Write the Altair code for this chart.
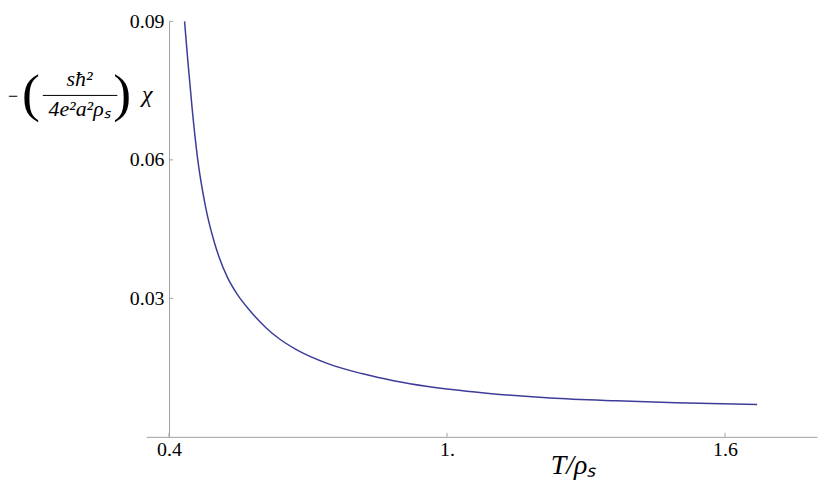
import altair as alt
import pandas as pd

# ---- data ----
T_vals = [0.4336, 0.4407, 0.4501, 0.4621, 0.4786, 0.4983, 0.5086, 0.5264, 0.5478,
          0.5766, 0.6087, 0.6372, 0.6730, 0.7443, 0.8157, 0.8873, 0.9586, 1.0801,
          1.2228, 1.3657, 1.4943, 1.6693]
chi_vals = [0.0900, 0.0814, 0.0710, 0.0600, 0.0500, 0.0420, 0.0388, 0.0345, 0.0308,
            0.0271, 0.0237, 0.0213, 0.0190, 0.0158, 0.0137, 0.0121, 0.0109, 0.0095,
            0.0084, 0.0078, 0.0074, 0.0070]
x_ticks = [0.4, 1.0, 1.6]
x_tick_labels = ["0.4", "1.", "1.6"]
y_ticks = [0.03, 0.06, 0.09]
y_tick_labels = ["0.03", "0.06", "0.09"]

SERIF = "Liberation Serif"
AXIS_GRAY = "#a0a0a0"
LINE_COLOR = "#3d3d99"

W, H = 675, 418

df = pd.DataFrame({"T": T_vals, "chi": chi_vals})

x_scale = alt.Scale(domain=[0.3507, 1.7986], nice=False, zero=False)
y_scale = alt.Scale(domain=[0, 0.09], nice=False, zero=False)

def label_expr(vals, labels):
    parts = " : ".join(
        f"datum.value == {v} ? '{l}'" for v, l in zip(vals, labels)
    )
    return parts + " : ''"

x_axis = alt.Axis(
    values=x_ticks, labelExpr=label_expr(x_ticks, x_tick_labels),
    ticks=False, grid=False, title=None,
    domainColor=AXIS_GRAY, domainWidth=1,
    labelFont=SERIF, labelFontSize=20, labelColor="black",
    labelPadding=3, labelBaseline="top", labelFlush=False,
)
y_axis = alt.Axis(
    values=y_ticks, labelExpr=label_expr(y_ticks, y_tick_labels),
    ticks=False, grid=False, title=None, offset=-23,
    domainColor=AXIS_GRAY, domainWidth=1,
    labelFont=SERIF, labelFontSize=20, labelColor="black",
    labelPadding=5, labelBaseline="middle", labelFlush=False,
)

curve = alt.Chart(df).mark_line(color=LINE_COLOR, strokeWidth=1.5, interpolate="monotone").encode(
    x=alt.X("T:Q", scale=x_scale, axis=x_axis),
    y=alt.Y("chi:Q", scale=y_scale, axis=y_axis),
)

xt = alt.Chart(pd.DataFrame({"T": x_ticks})).mark_rule(color=AXIS_GRAY, strokeWidth=1).encode(
    x=alt.X("T:Q", scale=x_scale), y=alt.value(H), y2=alt.value(H - 4)
)
yt = alt.Chart(pd.DataFrame({"chi": y_ticks})).mark_rule(color=AXIS_GRAY, strokeWidth=1).encode(
    y=alt.Y("chi:Q", scale=y_scale), x=alt.value(23), x2=alt.value(27)
)

def txt(s, x, y, size, style="normal", align="center", baseline="alphabetic"):
    return alt.Chart(pd.DataFrame({"label": [s]})).mark_text(
        font=SERIF, fontSize=size, fontStyle=style, align=align,
        baseline=baseline
    ).encode(text="label:N", x=alt.value(x), y=alt.value(y))

frac_rule = alt.Chart(pd.DataFrame({"k": [0]})).mark_rule(color="black", strokeWidth=1).encode(
    x=alt.value(-104), x2=alt.value(-29), y=alt.value(74.5)
)

annotations = [
    txt("\u2212", -139, 81, 18, align="left"),
    txt("(", -116, 90, 54),
    txt("s\u0127\u00b2", -67, 65, 22, style="italic"),
    txt("4e\u00b2a\u00b2\u03c1\u209b", -67, 95, 22, style="italic"),
    txt(")", -24, 90, 54),
    txt("\u03c7", 1, 81, 24, style="italic"),
    txt("T/\u03c1\u209b", 430, 455, 28, style="italic"),
]

chart = alt.layer(curve, xt, yt, frac_rule, *annotations).properties(
    width=W, height=H,
    padding={"left": 0, "top": 2, "right": 5, "bottom": 5},
).configure_view(stroke=None)

chart.save("out.html", embed_options={"renderer": "svg", "actions": False})
